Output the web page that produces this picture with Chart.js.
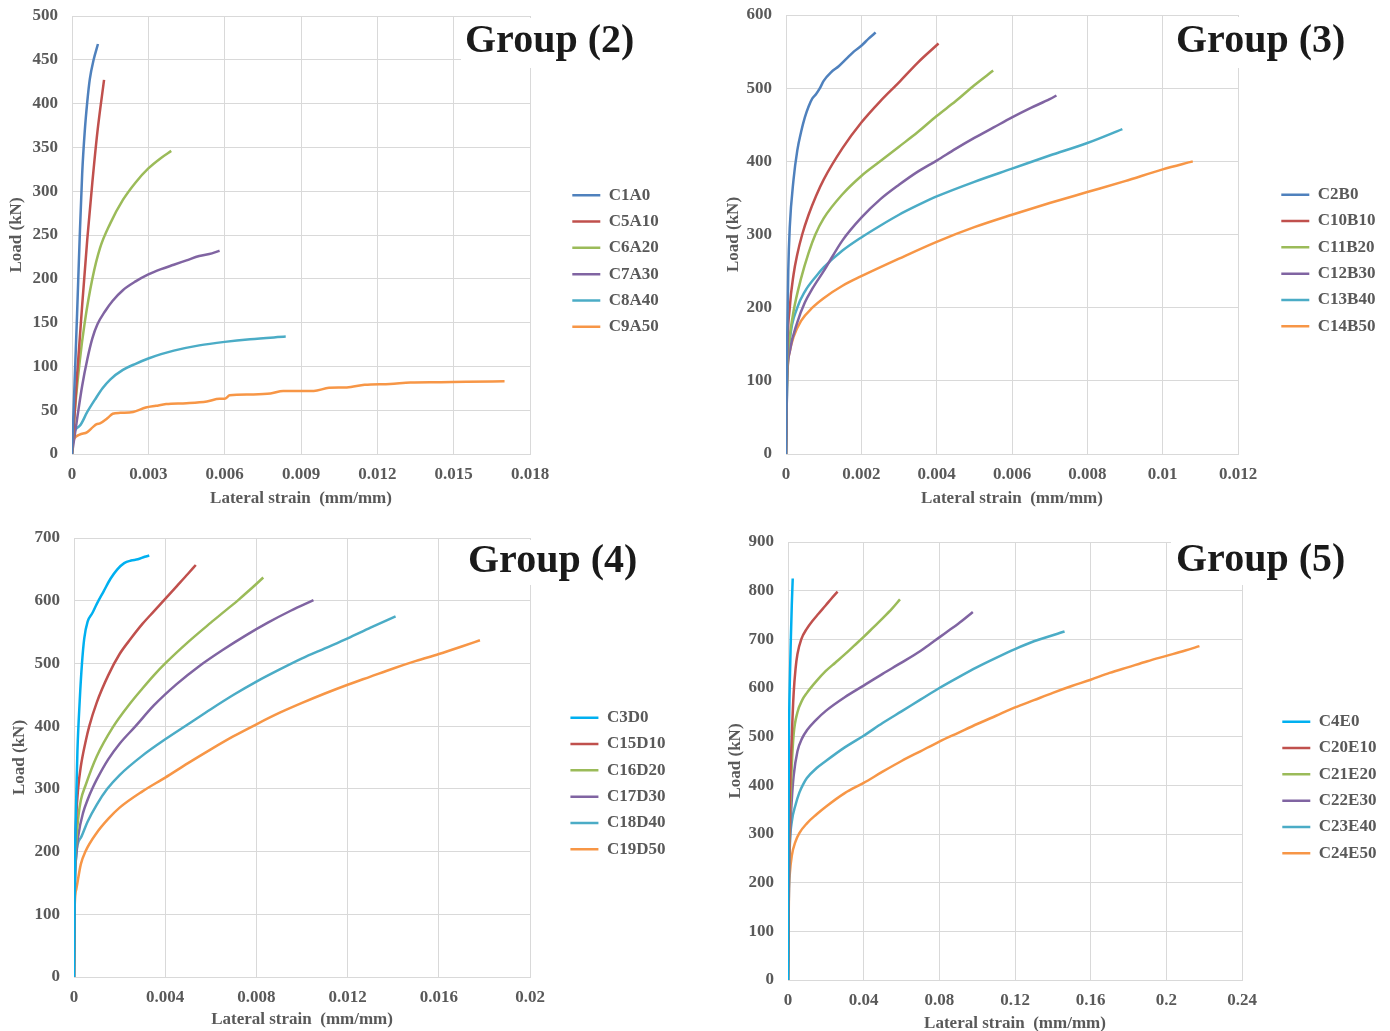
<!DOCTYPE html>
<html>
<head>
<meta charset="utf-8">
<title>Load - lateral strain curves</title>
<script src="https://cdn.jsdelivr.net/npm/chart.js@4.4.1/dist/chart.umd.min.js"></script>
<style>
  html, body { margin: 0; padding: 0; background: #fff; overflow: hidden; }
  #page { position: relative; width: 1390px; height: 1031px; overflow: hidden; background: #fff; }
  #page canvas { position: absolute; }
</style>
</head>
<body>
<div id="page">
  <canvas id="g2" width="700" height="515" style="left:0;top:0"></canvas>
  <canvas id="g3" width="690" height="515" style="left:700px;top:0"></canvas>
  <canvas id="g4" width="700" height="516" style="left:0;top:515px"></canvas>
  <canvas id="g5" width="690" height="520" style="left:700px;top:515px"></canvas>
</div>
<script>
// [lateral strain (mm/mm), load (kN)]

// Group (2)
const C1A0 = [[0,0],[0.0001,80],[0.0002,160],[0.0003,245],[0.0004,320],[0.0005,368],[0.0006,402],[0.0007,428],[0.00085,450],[0.00102,468]];
const C5A10 = [[0,0],[0.0002,90],[0.0004,170],[0.0006,245],[0.0008,310],[0.001,368],[0.00126,427]];
const C6A20 = [[0,0],[0.0001,45],[0.0003,105],[0.0005,150],[0.0008,200],[0.0011,235],[0.0015,263],[0.002,290],[0.0025,310],[0.003,326],[0.0035,338],[0.0039,346]];
const C7A30 = [[0,0],[0.0002,40],[0.0004,78],[0.0006,108],[0.0008,132],[0.001,148],[0.0013,163],[0.0016,175],[0.002,187],[0.0025,197],[0.003,205],[0.0035,211],[0.004,216],[0.0045,221],[0.005,226],[0.0055,229],[0.0058,232]];
const C8A40 = [[0,0],[0.00003,17],[0.0003,32],[0.0006,48],[0.0009,62],[0.0012,75],[0.0015,85],[0.002,96],[0.0025,103],[0.003,109],[0.0035,114],[0.004,118],[0.005,124],[0.006,128],[0.007,131],[0.0084,134]];
const C9A50 = [[0,0],[0.00003,12],[0.0001,18],[0.0003,22],[0.0006,25],[0.00083,31],[0.00097,34],[0.0011,35],[0.0014,41],[0.0016,46],[0.0019,47],[0.0024,48],[0.0029,53],[0.0033,55],[0.0037,57],[0.0045,58],[0.0053,60],[0.0058,63],[0.006,63],[0.0062,67],[0.007,68],[0.0078,69],[0.0083,72],[0.0095,72],[0.0101,75.5],[0.0108,76],[0.0115,79],[0.0125,80],[0.0133,81.5],[0.0145,82],[0.0155,82.5],[0.017,83]];

// Group (3)
const C2B0 = [[0,0],[0.00003,150],[0.00006,250],[0.0001,310],[0.0002,375],[0.0003,415],[0.0004,440],[0.0005,460],[0.0006,475],[0.0007,486],[0.0008,492],[0.0009,500],[0.001,510],[0.0012,522],[0.0014,530],[0.0016,540],[0.0018,550],[0.002,558],[0.0022,568],[0.00238,576]];
const C10B10 = [[0,0],[0.00003,130],[0.0001,200],[0.0002,245],[0.0003,273],[0.00043,300],[0.0006,327],[0.0008,353],[0.001,375],[0.0015,418],[0.002,453],[0.0025,482],[0.003,508],[0.0035,535],[0.00405,561]];
const C11B20 = [[0,0],[0.00003,110],[0.0001,160],[0.0002,195],[0.0004,240],[0.0006,275],[0.00078,300],[0.001,322],[0.0015,355],[0.002,380],[0.0025,400],[0.003,420],[0.0035,440],[0.004,462],[0.0045,482],[0.005,504],[0.0055,524]];
const C12B30 = [[0,0],[0.00003,100],[0.0001,140],[0.0003,180],[0.0005,207],[0.0007,226],[0.001,250],[0.0015,292],[0.002,323],[0.0025,348],[0.003,368],[0.0035,386],[0.004,401],[0.0045,417],[0.005,432],[0.0055,446],[0.006,460],[0.0065,473],[0.007,485],[0.00718,490]];
const C13B40 = [[0,0],[0.00003,100],[0.0001,155],[0.0003,200],[0.0005,222],[0.0008,243],[0.001,255],[0.0015,278],[0.002,296],[0.0025,312],[0.003,327],[0.0035,340],[0.004,352],[0.005,372],[0.006,390],[0.007,408],[0.008,425],[0.00893,444]];
const C14B50 = [[0,0],[0.00002,90],[0.0001,140],[0.0002,160],[0.0004,182],[0.0007,200],[0.001,213],[0.0015,230],[0.002,243],[0.003,267],[0.004,290],[0.005,310],[0.006,327],[0.007,343],[0.008,358],[0.009,373],[0.01,389],[0.0108,400]];

// Group (4)
const C3D0 = [[0,0],[0.00003,150],[0.00008,260],[0.00015,360],[0.00025,440],[0.00035,500],[0.00045,540],[0.0006,567],[0.0008,580],[0.001,595],[0.0013,615],[0.0016,635],[0.0019,650],[0.0022,660],[0.0025,664],[0.0028,666],[0.0031,670],[0.0033,672]];
const C15D10 = [[0,0],[0.00003,160],[0.0001,255],[0.00018,300],[0.0003,336],[0.0005,374],[0.00067,400],[0.001,438],[0.0015,481],[0.002,515],[0.0025,540],[0.003,563],[0.0035,583],[0.004,603],[0.0045,623],[0.005,643],[0.00534,657]];
const C16D20 = [[0,0],[0.00003,140],[0.0001,215],[0.0002,258],[0.0003,282],[0.0005,305],[0.001,352],[0.0017,398],[0.0025,438],[0.003,460],[0.0035,481],[0.004,500],[0.005,534],[0.006,565],[0.0066,583],[0.0072,601],[0.0077,617],[0.0083,637]];
const C17D30 = [[0,0],[0.00003,130],[0.0001,195],[0.0002,228],[0.0004,262],[0.0006,283],[0.0008,300],[0.001,315],[0.0015,347],[0.002,372],[0.0027,400],[0.0035,433],[0.0045,467],[0.0055,496],[0.0065,521],[0.0075,544],[0.0085,565],[0.0095,584],[0.0105,601]];
const C18D40 = [[0,0],[0.00003,120],[0.0001,195],[0.0003,222],[0.0006,248],[0.001,275],[0.00146,300],[0.002,322],[0.003,353],[0.004,379],[0.005,403],[0.006,427],[0.007,450],[0.008,471],[0.009,490],[0.01,508],[0.011,524],[0.012,540],[0.013,557],[0.0141,575]];
const C19D50 = [[0,0],[0.00002,100],[0.0001,140],[0.0003,180],[0.0005,200],[0.001,230],[0.0015,252],[0.002,270],[0.003,296],[0.004,318],[0.005,341],[0.006,363],[0.007,384],[0.008,403],[0.009,421],[0.01,437],[0.011,452],[0.012,466],[0.013,479],[0.014,492],[0.015,504],[0.016,515],[0.017,527],[0.0178,537]];

// Group (5)
const C4E0 = [[0,0],[0.0002,300],[0.0005,500],[0.001,620],[0.0015,700],[0.002,770],[0.0025,825]];
const C20E10 = [[0,0],[0.0005,250],[0.001,380],[0.002,500],[0.003,590],[0.004,640],[0.005,670],[0.007,700],[0.01,722],[0.013,738],[0.016,752],[0.02,770],[0.023,784],[0.0262,798]];
const C21E20 = [[0,0],[0.0005,230],[0.001,330],[0.002,440],[0.003,505],[0.005,550],[0.0075,575],[0.01,590],[0.015,614],[0.02,635],[0.025,652],[0.03,669],[0.035,687],[0.04,705],[0.045,724],[0.05,743],[0.055,763],[0.0592,782]];
const C22E30 = [[0,0],[0.0005,200],[0.001,290],[0.002,370],[0.003,420],[0.005,470],[0.0075,497],[0.01,513],[0.015,535],[0.02,553],[0.03,581],[0.04,605],[0.05,629],[0.06,652],[0.07,676],[0.075,690],[0.08,704],[0.085,718],[0.09,732],[0.0977,756]];
const C23E40 = [[0,0],[0.0005,200],[0.001,280],[0.002,325],[0.004,360],[0.006,385],[0.008,402],[0.01,415],[0.015,435],[0.02,450],[0.03,478],[0.04,502],[0.05,528],[0.06,552],[0.07,576],[0.08,600],[0.09,622],[0.1,643],[0.11,662],[0.12,680],[0.13,696],[0.1462,716]];
const C24E50 = [[0,0],[0.0005,180],[0.001,220],[0.002,255],[0.004,285],[0.006,302],[0.01,322],[0.015,340],[0.02,356],[0.03,384],[0.04,405],[0.05,428],[0.06,450],[0.07,470],[0.08,490],[0.09,508],[0.1,526],[0.11,543],[0.12,560],[0.13,575],[0.14,590],[0.15,604],[0.16,617],[0.17,631],[0.18,643],[0.19,655],[0.2,666],[0.21,677],[0.2175,686]];

const groupNames = ['Group (2)', 'Group (3)', 'Group (4)', 'Group (5)'];
const seriesNames = [
  ['C1A0', 'C5A10', 'C6A20', 'C7A30', 'C8A40', 'C9A50'],
  ['C2B0', 'C10B10', 'C11B20', 'C12B30', 'C13B40', 'C14B50'],
  ['C3D0', 'C15D10', 'C16D20', 'C17D30', 'C18D40', 'C19D50'],
  ['C4E0', 'C20E10', 'C21E20', 'C22E30', 'C23E40', 'C24E50']
];
const seriesData = [
  [C1A0, C5A10, C6A20, C7A30, C8A40, C9A50],
  [C2B0, C10B10, C11B20, C12B30, C13B40, C14B50],
  [C3D0, C15D10, C16D20, C17D30, C18D40, C19D50],
  [C4E0, C20E10, C21E20, C22E30, C23E40, C24E50]
];
const strainMax = [0.018, 0.012, 0.02, 0.24];
const strainStep = [0.003, 0.002, 0.004, 0.04];
const loadMax = [500, 600, 700, 900];
const loadStep = [50, 100, 100, 100];

const xTitle = 'Lateral strain  (mm/mm)';
const yTitle = 'Load (kN)';

// office style line colours
const palette = ['#4F81BD', '#C0504D', '#9BBB59', '#8064A2', '#4BACC6', '#F79646'];
const paletteCyan = ['#00B0F0'].concat(palette.slice(1));

const SERIF = '"Liberation Serif", "Times New Roman", serif';
const GREY = '#595959';
const GRID = '#d9d9d9';

const tickFont = { family: SERIF, weight: 'bold', size: 17 };
const titleFont = { family: SERIF, weight: 'bold', size: 17 };
const legendFont = { family: SERIF, weight: 'bold', size: 17 };
const LEGEND_PAD = 9.3;
const LEGEND_BOX = 28;

// per-panel geometry (canvas pixels); legendLeft is where the legend box starts
const panels = [
  { id: 'g2', colors: palette, yW: 72, xH: 52, top: 16, bottom: 9, legendLeft: 563, gap: 33, yTitlePad: 6, xTitlePad: -3,
    label: { x: 465, y: 52, box: [461, 18, 200, 50] } },
  { id: 'g3', colors: palette, yW: 86, xH: 52, top: 15, bottom: 9, legendLeft: 572, gap: 34, yTitlePad: 23, xTitlePad: -3,
    label: { x: 476, y: 52, box: [470, 17, 200, 51] } },
  { id: 'g4', colors: paletteCyan, yW: 74, xH: 52, top: 23, bottom: 2, legendLeft: 559, gap: 31, yTitlePad: 9, xTitlePad: -1,
    label: { x: 468, y: 57, box: [462, 25, 200, 45] } },
  { id: 'g5', colors: paletteCyan, yW: 88, xH: 53, top: 27, bottom: 2, legendLeft: 573, gap: 31, yTitlePad: 25, xTitlePad: -1,
    label: { x: 476, y: 56, box: [471, 24, 200, 46] } }
];

// width the legend plugin will give itself for these labels
function legendWidth(names) {
  const ctx = document.createElement('canvas').getContext('2d');
  ctx.font = legendFont.weight + ' ' + legendFont.size + 'px ' + legendFont.family;
  const widest = Math.max.apply(null, names.map(n => ctx.measureText(n).width));
  return LEGEND_PAD + LEGEND_BOX + legendFont.size / 2 + widest + 10;
}

// group name in a white box over the top right corner of the plot
const groupLabel = {
  id: 'groupLabel',
  afterDraw(chart, args, opts) {
    const ctx = chart.ctx;
    const b = opts.box;
    ctx.save();
    ctx.fillStyle = '#ffffff';
    ctx.fillRect(b[0], b[1], b[2], b[3]);
    ctx.font = 'bold 40px ' + SERIF;
    ctx.fillStyle = '#1a1a1a';
    ctx.textAlign = 'left';
    ctx.textBaseline = 'alphabetic';
    ctx.fillText(opts.text, opts.x, opts.y);
    ctx.restore();
  }
};

panels.forEach(function(p, g) {
  const canvas = document.getElementById(p.id);
  const padRight = canvas.width - p.legendLeft - legendWidth(seriesNames[g]);

  const datasets = seriesData[g].map(function(pts, i) {
    return {
      label: seriesNames[g][i],
      data: pts.map(d => ({ x: d[0], y: d[1] })),
      borderColor: p.colors[i],
      backgroundColor: p.colors[i],
      borderWidth: 2.5,
      pointRadius: 0,
      fill: false,
      cubicInterpolationMode: 'monotone'
    };
  });

  new Chart(canvas, {
    type: 'line',
    data: { datasets: datasets },
    plugins: [groupLabel],
    options: {
      responsive: false,
      animation: false,
      events: [],
      layout: { padding: { top: p.top, right: padRight, bottom: p.bottom, left: 0 } },
      scales: {
        x: {
          type: 'linear',
          min: 0,
          max: strainMax[g],
          grid: { color: GRID, lineWidth: 1, drawTicks: false },
          border: { color: GRID, width: 1 },
          ticks: {
            stepSize: strainStep[g],
            padding: 10,
            color: GREY,
            font: tickFont,
            maxRotation: 0,
            callback: v => String(Number(v.toFixed(6)))
          },
          title: { display: true, text: xTitle, color: GREY, font: titleFont, padding: { top: 4, bottom: p.xTitlePad } },
          afterFit: s => { s.height = p.xH; }
        },
        y: {
          type: 'linear',
          position: 'left',
          min: 0,
          max: loadMax[g],
          // invisible tick marks hold the labels off the plot edge
          grid: { color: GRID, lineWidth: 1, drawTicks: true, tickLength: 14, tickColor: 'rgba(0,0,0,0)' },
          border: { color: GRID, width: 1 },
          ticks: { stepSize: loadStep[g], padding: 0, color: GREY, font: tickFont },
          title: { display: true, text: yTitle, color: GREY, font: titleFont, padding: { top: p.yTitlePad, bottom: 0 } },
          afterFit: s => { s.width = p.yW; }
        },
        // empty axis that keeps the legend away from the plot
        gap: {
          type: 'linear',
          position: 'right',
          display: true,
          grid: { display: false },
          border: { display: false },
          ticks: { display: false },
          afterFit: s => { s.width = p.gap; }
        }
      },
      plugins: {
        legend: {
          position: 'right',
          labels: {
            usePointStyle: true,
            pointStyle: 'line',
            pointStyleWidth: LEGEND_BOX,
            padding: LEGEND_PAD,
            color: GREY,
            font: legendFont
          }
        },
        tooltip: { enabled: false },
        groupLabel: { text: groupNames[g], x: p.label.x, y: p.label.y, box: p.label.box }
      }
    }
  });
});
</script>
</body>
</html>
